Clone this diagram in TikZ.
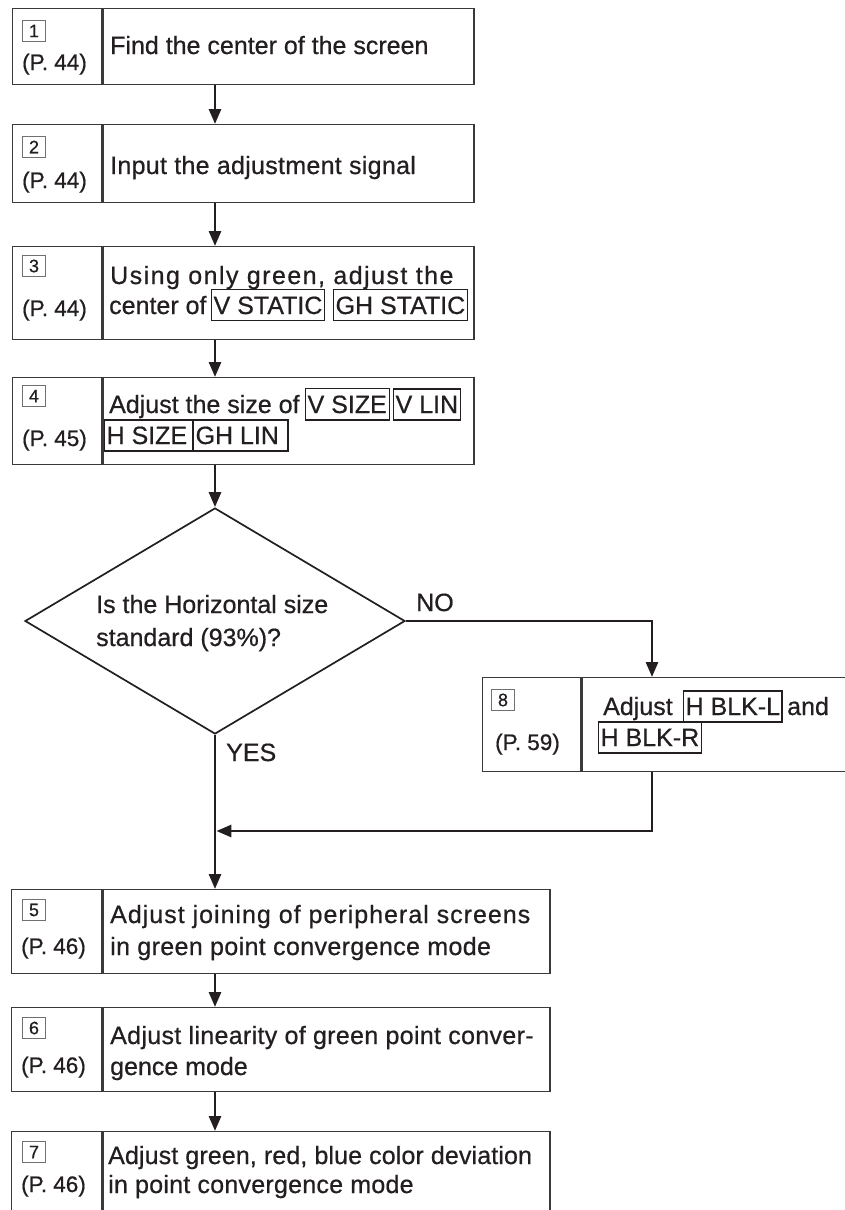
\documentclass[tikz,border=0pt]{standalone}
\usepackage{fontspec}
\setmainfont[FakeBold=0.6]{Liberation Sans}
\usetikzlibrary{arrows.meta,shapes.geometric}
\definecolor{ink}{HTML}{231F20}
\definecolor{framec}{HTML}{3A3A3A}
\definecolor{numframe}{HTML}{707070}
\newcommand\mainf{\fontsize{25}{33}\selectfont}
\newcommand\pgf{\fontsize{22.5}{27}\selectfont}
\newcommand\numf{\fontsize{18}{20}\selectfont}
\newcommand\lsp[1]{\addfontfeature{LetterSpace=#1}}
\begin{document}
\begin{tikzpicture}[x=1pt,y=-1pt,
  cellL/.style={draw=framec, line width=1.4pt, anchor=north west, inner sep=0pt, minimum width=89pt},
  cellR/.style={draw=framec, line width=1.4pt, anchor=north west, inner sep=0pt},
  txt/.style={anchor=base west, inner sep=0pt, text=ink, font=\mainf},
  pg/.style={anchor=base west, inner sep=0pt, text=ink, font=\pgf},
  num/.style={draw=numframe, line width=0.9pt, inner sep=0pt, minimum width=23pt, minimum height=21pt, text=ink, font=\numf},
  kw/.style={draw=ink, line width=1.2pt, anchor=base west, inner xsep=2pt, inner ysep=0pt, minimum height=31pt, text=ink, font=\mainf},
  conn/.style={draw=ink, line width=2.8pt},
  arr/.style={conn, -{Triangle[length=15pt,width=12pt]}}]
\useasboundingbox (0,0) rectangle (844,1210);
\fill[white] (0,0) rectangle (844,1210);
\coordinate (ax) at (215,0);
\coordinate (c8) at (652,0);
\coordinate (ret) at (0,831);

% step 1
\node[cellL, minimum height=76pt] (l1) at (12,8) {};
\node[cellR, minimum width=371pt, minimum height=76pt] (r1) at (l1.north east) {};
\node[num] (n1) at (34,31) {1};
\node[pg] (p1) at (22,70) {(P. 44)};
\node[txt] (t1) at (110,54) {Find the center of the screen};

% step 2
\node[cellL, minimum height=78pt] (l2) at (12,124) {};
\node[cellR, minimum width=371pt, minimum height=78pt] (r2) at (l2.north east) {};
\node[num] (n2) at (34,147) {2};
\node[pg] (p2) at (22,188) {(P. 44)};
\node[txt] (t2) at (110,174) {\lsp{1.2}Input the adjustment signal};

% step 3
\node[cellL, minimum height=93pt] (l3) at (12,246) {};
\node[cellR, minimum width=371pt, minimum height=93pt] (r3) at (l3.north east) {};
\node[num] (n3) at (34,266) {3};
\node[pg] (p3) at (22,316) {(P. 44)};
\node[txt] (t3a) at (110,284) {\lsp{5.8}Using only green, adjust the};
\node[txt] (t3b) at (109,314) {center of};
\node[kw] (k3a) at (211,314) {V STATIC};
\node[kw] (k3b) at (333,314) {GH STATIC};

% step 4
\node[cellL, minimum height=87pt] (l4) at (12,377) {};
\node[cellR, minimum width=371pt, minimum height=87pt] (r4) at (l4.north east) {};
\node[num] (n4) at (34,396) {4};
\node[pg] (p4) at (22,446) {(P. 45)};
\node[txt] (t4a) at (109,413) {Adjust the size of};
\node[kw] (k4a) at (305,413) {V SIZE\hspace*{1pt}};
\node[kw] (k4b) at (393,413) {V LIN};
\node[kw] (k4c) at (104,444) {H SIZE\hspace*{3pt}};
\node[kw] (k4d) at (193,444) {GH LIN\hspace*{7pt}};

% decision
\node[diamond, draw=ink, line width=1.7pt, minimum width=380pt, minimum height=226pt, inner sep=0pt] (dec) at (215,621) {};
\node[txt] (dt1) at (96,613) {Is the Horizontal size};
\node[txt] (dt2) at (96,646) {standard (93\%)?};
\node[txt] (no) at (416,611) {NO};
\node[txt] (yes) at (226,761) {YES};

% step 8
\node[cellL, minimum width=98pt, minimum height=94pt] (l8) at (482,677) {};
\node[cellR, minimum width=280pt, minimum height=94pt] (r8) at (l8.north east) {};
\node[num] (n8) at (503,700) {8};
\node[pg] (p8) at (495,750) {(P. 59)};
\node[txt] (t8a) at (603,715) {Adjust};
\node[kw] (k8a) at (683,715) {H BLK-L};
\node[txt] (t8b) at (787,715) {and};
\node[kw] (k8b) at (598,746) {H BLK-R};

% step 5
\node[cellL, minimum width=90pt, minimum height=84pt] (l5) at (11,889) {};
\node[cellR, minimum width=447pt, minimum height=84pt] (r5) at (l5.north east) {};
\node[num] (n5) at (34,910) {5};
\node[pg] (p5) at (21,954) {(P. 46)};
\node[txt] (t5a) at (110,923) {\lsp{4}Adjust joining of peripheral screens};
\node[txt] (t5b) at (110,955) {\lsp{1.5}in green point convergence mode};

% step 6
\node[cellL, minimum width=90pt, minimum height=84pt] (l6) at (11,1007) {};
\node[cellR, minimum width=447pt, minimum height=84pt] (r6) at (l6.north east) {};
\node[num] (n6) at (34,1028) {6};
\node[pg] (p6) at (21,1073) {(P. 46)};
\node[txt] (t6a) at (110,1044) {\lsp{1.3}Adjust linearity of green point conver-};
\node[txt] (t6b) at (110,1075) {gence mode};

% step 7
\node[cellL, minimum width=90pt, minimum height=90pt] (l7) at (11,1131) {};
\node[cellR, minimum width=447pt, minimum height=90pt] (r7) at (l7.north east) {};
\node[num] (n7) at (34,1152) {7};
\node[pg] (p7) at (21,1192) {(P. 46)};
\node[txt] (t7a) at (108,1164) {\lsp{0.5}Adjust green, red, blue color deviation};
\node[txt] (t7b) at (108,1193) {\lsp{1}in point convergence mode};

% connectors
\draw[arr] (r1.south -| ax) -- (r2.north -| ax);
\draw[arr] (r2.south -| ax) -- (r3.north -| ax);
\draw[arr] (r3.south -| ax) -- (r4.north -| ax);
\draw[arr] (r4.south -| ax) -- (dec.north);
\draw[arr] (dec.east) -| (r8.north -| c8);
\draw[arr] (dec.south) -- (r5.north -| ax);
\draw[arr] (r8.south -| c8) |- ([xshift=1.4pt]ret -| ax);
\draw[arr] (r5.south -| ax) -- (r6.north -| ax);
\draw[arr] (r6.south -| ax) -- (r7.north -| ax);
\end{tikzpicture}
\end{document}
